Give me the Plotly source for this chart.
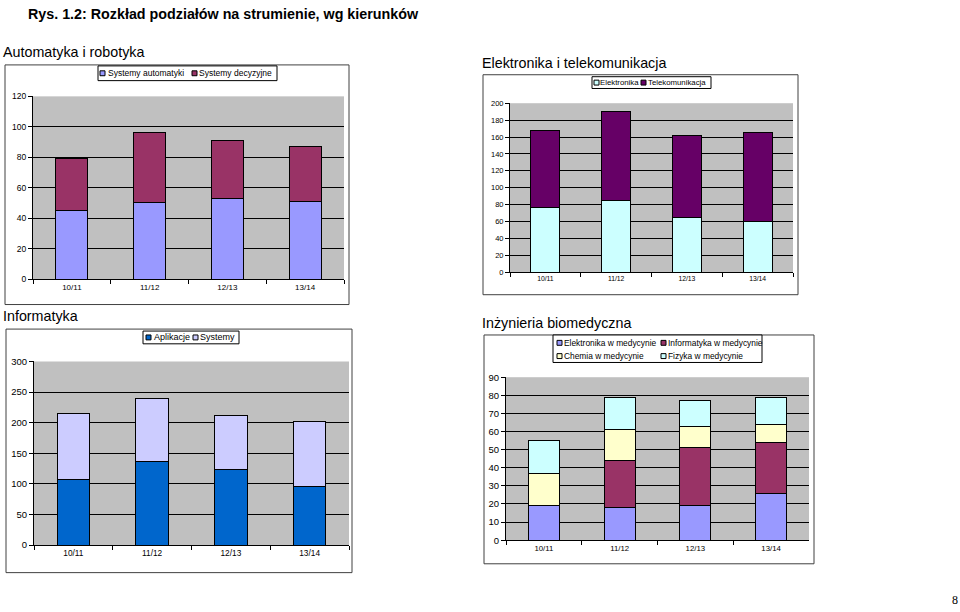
import plotly.graph_objects as go

W, H = 960, 612
FONT = "Arial, Liberation Sans, sans-serif"

years = ["10/11", "11/12", "12/13", "13/14"]

# Automatyka i robotyka
ar_names = ["Systemy automatyki", "Systemy decyzyjne"]
ar_auto = [45, 50, 53, 51]
ar_decy = [34, 46, 38, 36]
# Elektronika i telekomunikacja
et_names = ["Elektronika", "Telekomunikacja"]
et_elek = [77, 85, 65, 60]
et_tele = [91, 105, 97, 105]
# Informatyka
inf_names = ["Aplikacje", "Systemy"]
inf_apl = [107, 136, 124, 96]
inf_sys = [108, 104, 87, 106]
# Inzynieria biomedyczna
bio_names = ["Elektronika w medycynie", "Informatyka w medycynie",
             "Chemia w medycynie", "Fizyka w medycynie"]
bio_elek = [19, 18, 19, 26]
bio_info = [0, 26, 32, 28]
bio_chem = [18, 17, 12, 10]
bio_fiz = [18, 18, 14, 15]

C_LILAC, C_PLUM, C_LCYAN, C_PURPLE = "#9999FF", "#993366", "#CCFFFF", "#660066"
C_BLUE, C_PALE, C_CREAM = "#0066CC", "#CCCCFF", "#FFFFCC"


def px(x):
    return x / W


def py(y):
    return 1 - y / H


fig = go.Figure()
line = dict(color="black", width=1)


def add_bar(name, vals, color, xa, ya):
    fig.add_trace(go.Bar(
        x=years, y=vals, name=name, marker=dict(color=color, line=line),
        xaxis=xa, yaxis=ya, showlegend=False,
    ))


add_bar(ar_names[0], ar_auto, C_LILAC, "x", "y")
add_bar(ar_names[1], ar_decy, C_PLUM, "x", "y")
add_bar(et_names[0], et_elek, C_LCYAN, "x2", "y2")
add_bar(et_names[1], et_tele, C_PURPLE, "x2", "y2")
add_bar(inf_names[0], inf_apl, C_BLUE, "x3", "y3")
add_bar(inf_names[1], inf_sys, C_PALE, "x3", "y3")
add_bar(bio_names[0], bio_elek, C_LILAC, "x4", "y4")
add_bar(bio_names[1], bio_info, C_PLUM, "x4", "y4")
add_bar(bio_names[2], bio_chem, C_CREAM, "x4", "y4")
add_bar(bio_names[3], bio_fiz, C_LCYAN, "x4", "y4")

panels = [
    # (x0, x1, ytop, ybottom, ymax, dtick, ytickfont, xtickfont)
    (33, 344, 92, 278, 120, 20, 8.5, 8),
    (510, 793, 99, 271, 200, 20, 7.5, 6.8),
    (34, 349, 362, 549, 300, 50, 9.5, 8.3),
    (506, 809, 378, 544, 90, 10, 9.5, 7.8),
]

layout = dict(
    width=W, height=H, margin=dict(l=0, r=0, t=0, b=0),
    paper_bgcolor="white", plot_bgcolor="#C0C0C0",
    barmode="stack", bargap=0.59, showlegend=False,
    font=dict(family=FONT, color="black"),
)

for i, (x0, x1, yt, yb, ymax, dt, yfs, xfs) in enumerate(panels):
    sfx = "" if i == 0 else str(i + 1)
    layout["xaxis" + sfx] = dict(
        domain=[px(x0), px(x1)], anchor="y" + sfx, type="category",
        showline=True, linecolor="black", linewidth=1,
        ticks="outside", ticklen=4, tickcolor="black", tickson="boundaries",
        showgrid=False, tickfont=dict(size=xfs, family=FONT),
    )
    layout["yaxis" + sfx] = dict(
        domain=[py(yb), py(yt)], anchor="x" + sfx, range=[0, ymax],
        dtick=dt, showline=True, linecolor="black", linewidth=1,
        ticks="outside", ticklen=4, tickcolor="black",
        showgrid=True, gridcolor="black", gridwidth=1, zeroline=False,
        tickfont=dict(size=yfs, family=FONT),
    )

fig.update_layout(**layout)

# chart frames
frames = [(5, 60, 349, 304), (483, 70, 798, 294), (6, 329, 352, 577), (484, 335, 814, 568)]
for (a, b, c, d) in frames:
    fig.add_shape(type="rect", xref="paper", yref="paper",
                  x0=px(a), x1=px(c), y0=py(d), y1=py(b),
                  line=dict(color="#404040", width=1), layer="below")


def add_legend(box, entries, fs):
    bx0, by0, bx1, by1 = box
    fig.add_shape(type="rect", xref="paper", yref="paper",
                  x0=px(bx0), x1=px(bx1), y0=py(by1), y1=py(by0),
                  line=dict(color="black", width=1), fillcolor="white", layer="above")
    for (sx, tx, yc, sz, color, name) in entries:
        fig.add_shape(type="rect", xref="paper", yref="paper",
                      x0=px(sx), x1=px(sx + sz), y0=py(yc + sz / 2), y1=py(yc - sz / 2),
                      line=dict(color="black", width=1), fillcolor=color, layer="above")
        fig.add_annotation(text=name, xref="paper", yref="paper", x=px(tx - 1), y=py(yc),
                           xanchor="left", yanchor="middle", showarrow=False,
                           borderpad=0, font=dict(size=fs, family=FONT, color="black"))


add_legend((98, 61, 277, 76), [
    (100, 108, 68.5, 5, C_LILAC, ar_names[0]),
    (192, 199, 68.5, 5, C_PLUM, ar_names[1]),
], 8.5)
add_legend((592, 72, 711, 84), [
    (594, 600, 78, 5, C_LCYAN, et_names[0]),
    (641, 648, 78, 5, C_PURPLE, et_names[1]),
], 7.8)
add_legend((143, 331, 239, 344), [
    (146, 154, 337.5, 5, C_BLUE, inf_names[0]),
    (193, 200, 337.5, 5, C_PALE, inf_names[1]),
], 9)
add_legend((553, 335, 762, 363), [
    (557, 564, 343, 5, C_LILAC, bio_names[0]),
    (661, 668, 343, 5, C_PLUM, bio_names[1]),
    (557, 564, 356.5, 5, C_CREAM, bio_names[2]),
    (661, 668, 356.5, 5, C_LCYAN, bio_names[3]),
], 8.4)

titles = [
    ("Rys. 1.2: Rozkład podziałów na strumienie, wg kierunków", 28, 8, 14.3, True),
    ("Automatyka i robotyka", 3, 47, 14.3, False),
    ("Elektronika i telekomunikacja", 482, 58, 14.3, False),
    ("Informatyka", 3, 316, 14.3, False),
    ("Inżynieria biomedyczna", 482, 323, 14.3, False),
]
for text, x, y, size, bold in titles:
    fig.add_annotation(text=f"<b>{text}</b>" if bold else text, xref="paper", yref="paper",
                       x=px(x - 1), y=py(y), xanchor="left", yanchor="middle", showarrow=False,
                       borderpad=0, font=dict(size=size, family=FONT, color="black"))
fig.add_annotation(text="8", xref="paper", yref="paper", x=px(955), y=py(605),
                   xanchor="center", yanchor="middle", showarrow=False, borderpad=0,
                   font=dict(size=12, family="Liberation Serif, Times New Roman, serif"))

fig.write_html("out.html", config={"displayModeBar": False},
               post_script="document.body.style.margin='0';document.body.style.padding='0';")
